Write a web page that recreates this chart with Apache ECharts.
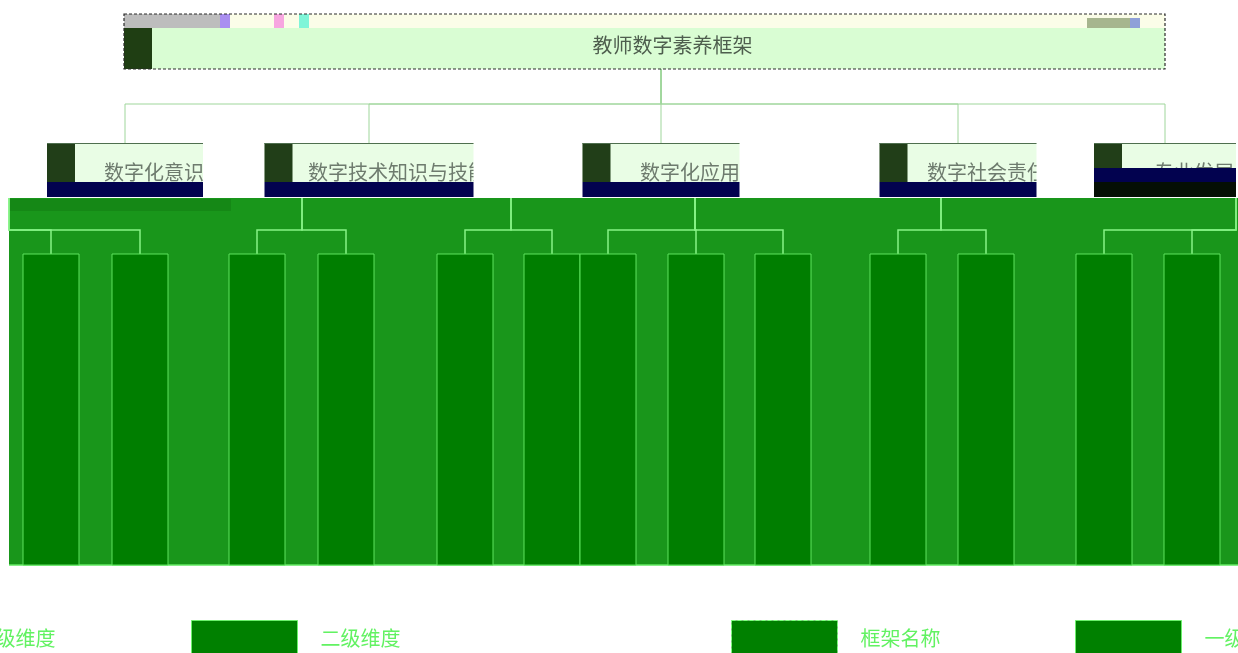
<!DOCTYPE html>
<html>
<head>
<meta charset="utf-8">
<title>教师数字素养框架</title>
<script src="https://cdn.jsdelivr.net/npm/echarts@6/dist/echarts.min.js"></script>
<style>
  html, body { margin: 0; padding: 0; background: #fff; }
  #chart { width: 1238px; height: 653px; }
</style>
</head>
<body>
<div id="chart"></div>
<script>
// tree (x positions on a 0..1238 axis)
const rootName = '教师数字素养框架';
const rootX = 661;
const level1Names = ['数字化意识', '数字技术知识与技能', '数字化应用', '数字社会责任', '专业发展'];
const level1X = [125, 369, 661, 958, 1165];
const level2GroupX = [9, 302, 511, 695, 941, 1236];
const level2X = [51, 140, 257, 346, 465, 552, 608, 696, 783, 898, 986, 1104, 1192];
const level2Group = [0, 0, 1, 1, 2, 2, 3, 3, 3, 4, 4, 5, 5];
const legendNames = ['三级维度', '二级维度', '框架名称', '一级维度'];

// layout (rows on the y axis, box sizes)
const ROW = {
  rootTop: 14, rootStrip: 28, rootBottom: 69, bus: 104,
  l1Top: 143, l1Bar: 182, l1Bottom: 197,
  panelTop: 198, l2Bus: 230, l2Top: 254, l2Bottom: 565
};
const level1BoxW = [156, 209, 157, 157, 142];
const level2BoxW = 56;
const FONT = '"Noto Sans CJK SC", "Noto Sans", sans-serif';

const chart = echarts.init(document.getElementById('chart'));

function rect(api, x0, y0, x1, y1, style) {
  const a = api.coord([x0, y0]);
  const b = api.coord([x1, y1]);
  return {
    type: 'rect',
    shape: { x: a[0], y: a[1], width: b[0] - a[0], height: b[1] - a[1] },
    style: style
  };
}

const rootLinks = level1X.map(x => ({
  coords: [[rootX, ROW.rootBottom], [rootX, ROW.bus], [x, ROW.bus], [x, ROW.l1Top]]
}));
const level2Links = level2X.map((x, i) => {
  const gx = level2GroupX[level2Group[i]];
  return { coords: [[gx, ROW.panelTop], [gx, ROW.l2Bus], [x, ROW.l2Bus], [x, ROW.l2Top]] };
});

const legendLeft = [-154, 191, 731, 1075];
const legendStyle = {
  '三级维度': { color: '#008000', borderColor: '#6cf06c', borderWidth: 1 },
  '二级维度': { color: '#008000', borderColor: '#6cf06c', borderWidth: 1 },
  '框架名称': { color: '#008000', borderColor: '#7dff7d', borderWidth: 1, borderType: 'dashed' },
  '一级维度': { color: '#008000', borderColor: '#6cf06c', borderWidth: 1 }
};

const option = {
  animation: false,
  grid: { left: 0, right: 0, top: 0, bottom: 0 },
  xAxis: { type: 'value', min: 0, max: 1238, show: false },
  yAxis: { type: 'value', min: 0, max: 653, inverse: true, show: false },
  legend: legendNames.map((name, i) => ({
    data: [{ name: name, icon: 'rect', itemStyle: legendStyle[name] }],
    left: legendLeft[i],
    top: 620,
    padding: 0,
    itemWidth: 106,
    itemHeight: 36,
    selectedMode: false,
    textStyle: { color: '#62f262', fontSize: 20, fontFamily: FONT, padding: [0, 0, 0, 18] }
  })),
  graphic: [
    {
      type: 'rect', z: 1, silent: true,
      shape: { x: 9, y: ROW.panelTop, width: 1229, height: ROW.l2Bottom - ROW.panelTop },
      style: { fill: '#19961b' }
    },
    {
      type: 'rect', z: 1, silent: true,
      shape: { x: 9, y: ROW.panelTop + 1, width: 222, height: 12 },
      style: { fill: 'rgba(0,60,0,0.15)' }
    },
    {
      type: 'line', z: 1, silent: true,
      shape: { x1: 9, y1: ROW.l2Bottom, x2: 1238, y2: ROW.l2Bottom },
      style: { stroke: '#62e862', lineWidth: 1.5 }
    }
  ],
  series: [
    {
      type: 'lines',
      coordinateSystem: 'cartesian2d',
      polyline: true,
      silent: true,
      z: 2,
      lineStyle: { color: '#9fd69b', width: 1, opacity: 1 },
      data: rootLinks
    },
    {
      type: 'lines',
      coordinateSystem: 'cartesian2d',
      polyline: true,
      silent: true,
      z: 3,
      lineStyle: { color: '#86f386', width: 1.5, opacity: 1 },
      data: level2Links
    },
    {
      type: 'custom',
      name: '框架名称',
      coordinateSystem: 'cartesian2d',
      silent: true,
      z: 4,
      itemStyle: { color: '#008000' },
      data: [[rootX]],
      renderItem(params, api) {
        const x0 = level1X[0] - 1;
        const x1 = level1X[level1X.length - 1];
        const mid = api.coord([(x0 + x1) / 2 + 28, 45]);
        return {
          type: 'group',
          children: [
            rect(api, x0, ROW.rootTop, x1, ROW.rootBottom, { fill: '#d9fdd3' }),
            rect(api, x0, ROW.rootTop, x1, ROW.rootStrip, { fill: '#fbfde8' }),
            rect(api, x0, ROW.rootTop, x0 + 96, ROW.rootStrip, { fill: '#bdbdbd' }),
            rect(api, x0 + 96, ROW.rootTop, x0 + 106, ROW.rootStrip, { fill: '#a98ef0' }),
            rect(api, x0 + 150, ROW.rootTop, x0 + 160, ROW.rootStrip, { fill: '#f7a6e0' }),
            rect(api, x0 + 175, ROW.rootTop, x0 + 185, ROW.rootStrip, { fill: '#7ff5d8' }),
            rect(api, x1 - 78, ROW.rootTop + 4, x1 - 35, ROW.rootStrip, { fill: '#a6b58e' }),
            rect(api, x1 - 35, ROW.rootTop + 4, x1 - 25, ROW.rootStrip, { fill: '#8fa0d8' }),
            rect(api, x0, ROW.rootStrip, x0 + 28, ROW.rootBottom, { fill: '#1f3e13' }),
            rect(api, x0, ROW.rootTop, x1, ROW.rootBottom, {
              fill: 'none', stroke: '#2a2a2a', lineWidth: 1.2, lineDash: [3, 2]
            }),
            {
              type: 'text',
              style: {
                text: rootName, x: mid[0], y: mid[1],
                align: 'center', verticalAlign: 'middle',
                fill: '#4e5e4e', fontSize: 20, fontFamily: FONT
              }
            }
          ]
        };
      }
    },
    {
      type: 'custom',
      name: '一级维度',
      coordinateSystem: 'cartesian2d',
      silent: true,
      z: 4,
      itemStyle: { color: '#008000' },
      data: level1X.map((x, i) => [x, i]),
      renderItem(params, api) {
        const i = params.dataIndex;
        const cx = api.value(0);
        const w = level1BoxW[i];
        const x0 = cx - w / 2;
        const x1 = cx + w / 2;
        const name = level1Names[i];
        const tp = api.coord([cx + 29, 172]);
        const a = api.coord([x0, ROW.l1Top]);
        const b = api.coord([x1, ROW.l1Bar]);
        // the last box is drawn with its bar slipped up
        const shifted = i === level1X.length - 1;
        const barTop = shifted ? ROW.l1Bar - 14 : ROW.l1Bar;
        const kids = [
          rect(api, x0, ROW.l1Top, x1, ROW.l1Bar, { fill: '#e9fde5' }),
          rect(api, x0, ROW.l1Top, x0 + 28, ROW.l1Bar, { fill: '#213e18' }),
          {
            type: 'text',
            clipPath: {
              type: 'rect',
              shape: { x: a[0], y: a[1], width: b[0] - a[0], height: b[1] - a[1] }
            },
            style: {
              text: name, x: tp[0], y: tp[1],
              align: 'center', verticalAlign: 'middle',
              fill: '#6e7b6e', fontSize: 20, fontFamily: FONT
            }
          },
          rect(api, x0, barTop, x1, barTop + 15, { fill: '#02024f' })
        ];
        if (shifted) {
          kids.push(rect(api, x0, ROW.l1Bar, x1, ROW.l1Bottom, { fill: '#050f05' }));
        }
        kids.push(rect(api, x0, ROW.l1Top, x1, ROW.l1Top + 1, { fill: '#4f6f4f' }));
        return { type: 'group', children: kids };
      }
    },
    {
      type: 'custom',
      name: '二级维度',
      coordinateSystem: 'cartesian2d',
      silent: true,
      z: 4,
      itemStyle: { color: '#008000' },
      data: level2X.map((x, i) => [x, level2Group[i]]),
      renderItem(params, api) {
        const cx = api.value(0);
        return rect(api, cx - level2BoxW / 2, ROW.l2Top, cx + level2BoxW / 2, ROW.l2Bottom, {
          fill: '#007e00', stroke: '#5fe35f', lineWidth: 1
        });
      }
    },
    {
      type: 'custom',
      name: '三级维度',
      coordinateSystem: 'cartesian2d',
      itemStyle: { color: '#008000' },
      data: [],
      renderItem() { return null; }
    }
  ]
};

chart.setOption(option);
</script>
</body>
</html>
